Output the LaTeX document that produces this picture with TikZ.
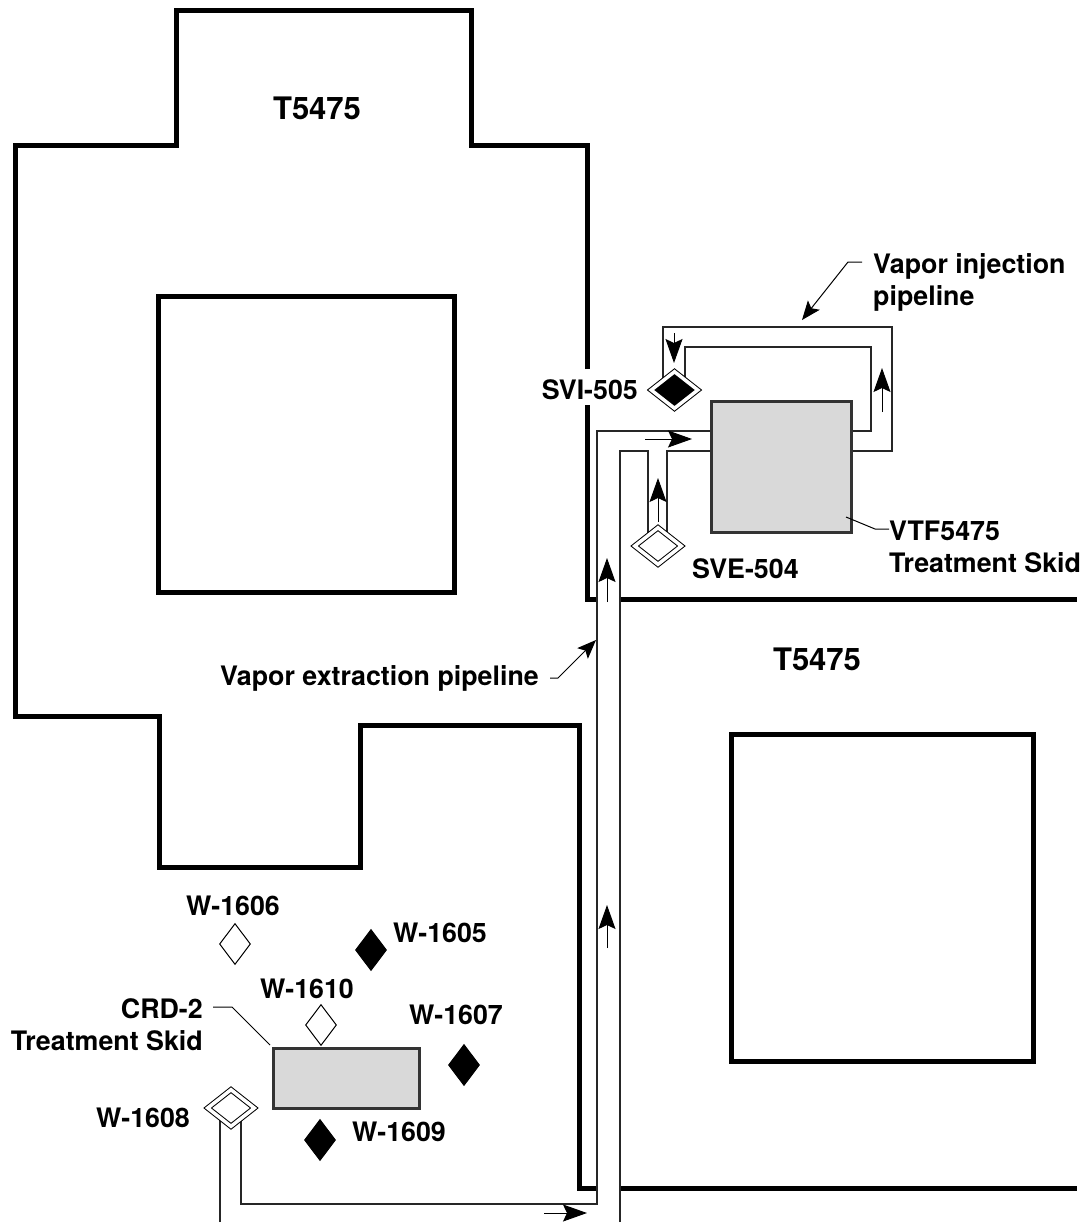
\documentclass[tikz,border=0pt]{standalone}
\usepackage{fontspec}
\setmainfont{TeX Gyre Heros}
\usetikzlibrary{shapes.geometric,arrows.meta,positioning,calc}

\begin{document}
\begin{tikzpicture}[x=1pt, y=-1pt,
    wall/.style={draw=black, line width=5pt},
    plot/.style={draw=black, line width=5pt},
    pipe/.style={draw=black!85, line width=1.2pt},
    skid/.style={rectangle, draw=black!80, fill=black!15, line width=3pt, inner sep=0pt},
    well/.style={diamond, draw=black, fill=white, line width=1pt, inner sep=0pt, minimum width=31pt, minimum height=41pt},
    wellon/.style={well, fill=black},
    port/.style={diamond, draw=black, fill=white, line width=1pt, double=white, double distance=3.5pt, inner sep=0pt, minimum width=47pt, minimum height=37pt},
    porton/.style={port, fill=black},
    label/.style={font=\fontsize{26.8}{32}\selectfont\bfseries, inner sep=0pt, align=left},
    title/.style={font=\fontsize{31}{36}\selectfont\bfseries, inner sep=0pt},
    flow/.style={draw=black, line width=1pt, -{Stealth[length=24pt, width=17pt, inset=4pt]}},
    pointer/.style={draw=black, line width=1pt, -{Stealth[length=19pt, width=15pt, inset=4pt]}},
    leader/.style={draw=black, line width=1pt}]

    \useasboundingbox (0,0) rectangle (1090,1224);

    \draw [wall] (587,369) -- (587,145) -- (471,145) -- (471,10) -- (176,10) -- (176,145) -- (15,145) -- (15,716) -- (159,716) -- (159,867) -- (360,867) -- (360,725) -- (579,725) -- (579,1188) -- (597,1188);
    \draw [wall] (587,405) -- (587,599) -- (597,599);
    \draw [wall] (620,599) -- (1077,599);
    \draw [wall] (620,1188) -- (1077,1188);
    \draw [plot] (158,296) rectangle (454,592);
    \draw [plot] (731,734) rectangle (1033,1061);

    \node [skid, minimum width=140pt, minimum height=131pt] (vtf) at (781,466.5) {};
    \node [skid, minimum width=146pt, minimum height=60pt] (crd) at (346,1078) {};

    \coordinate (ext corner) at (597,1204);
    \coordinate (ret corner) at (620,451);
    \coordinate (ext bottom) at (220,1222);
    \coordinate (ret bottom) at (620,1222);
    \coordinate (inj outer) at (892,327);
    \coordinate (inj inner) at (871,347);

    \path [pipe] (241,1108) |- (ext corner) |- (vtf.west |- 0,431);
    \path [pipe] (ext bottom) -- (220,1108);
    \path [pipe] (ret bottom) -- (ret corner) -- (648,451) -- (648,546);
    \path [pipe] (667,546) -- (667,451) -- (vtf.west |- 0,451);
    \path [pipe] (vtf.east |- 0,431) -| (inj inner) -| (685,390);
    \path [pipe] (vtf.east |- 0,451) -| (inj outer) -| (663,390);

    \node [port] (w1608) at (231,1108) {};
    \node [port] (sve504) at (658,546) {};
    \node [porton] (svi505) at (674.5,390) {};
    \node [well] (w1606) at (235,944) {};
    \node [wellon] (w1605) at (371,950) {};
    \node [well] (w1610) at (321,1025) {};
    \node [wellon] (w1607) at (464,1065) {};
    \node [wellon] (w1609) at (320,1140) {};

    \node [title] (t5475a) at (317,108) {T5475};
    \node [title] (t5475b) at (817,659) {T5475};
    \node [label, anchor=north west] (injlabel) at (873,253) {Vapor injection\\pipeline};
    \node [label, anchor=east] (svilabel) at (638,390) {SVI-505};
    \node [label, anchor=west] (svelabel) at (692,569) {SVE-504};
    \node [label, anchor=north west] (vtflabel) at (889,521) {VTF5475\\Treatment Skid};
    \node [label, anchor=east] (extlabel) at (539,678) {Vapor extraction pipeline};
    \node [label] (l1606) at (233,906) {W-1606};
    \node [label] (l1605) at (440,933) {W-1605};
    \node [label] (l1610) at (307,989) {W-1610};
    \node [label] (l1607) at (456,1015) {W-1607};
    \node [label] (l1608) at (143,1118) {W-1608};
    \node [label] (l1609) at (399,1132) {W-1609};
    \node [label, anchor=north east, align=right] (crdlabel) at (203,998) {CRD-2\\Treatment Skid};

    \coordinate (ext flow a) at (607,602);
    \coordinate (ext flow b) at (607,558);
    \coordinate (ext flow c) at (607,948);
    \coordinate (ext flow d) at (607,905);
    \coordinate (in flow a) at (645,439);
    \coordinate (in flow b) at (692,439);
    \coordinate (sve flow a) at (658,522);
    \coordinate (sve flow b) at (658,478);
    \coordinate (svi flow a) at (674,333);
    \coordinate (svi flow b) at (674,363);
    \coordinate (out flow a) at (882,412);
    \coordinate (out flow b) at (882,368);
    \coordinate (low flow a) at (544,1213);
    \coordinate (low flow b) at (587,1213);

    \path [flow] (ext flow a) -- (ext flow b);
    \path [flow] (ext flow c) -- (ext flow d);
    \path [flow] (in flow a) -- (in flow b);
    \path [flow] (sve flow a) -- (sve flow b);
    \path [flow] (svi flow a) -- (svi flow b);
    \path [flow] (out flow a) -- (out flow b);
    \path [flow] (low flow a) -- (low flow b);

    \coordinate (inj tip) at (802,320);
    \coordinate (ext tip) at (596,640);
    \coordinate (vtf tip) at (846,517);
    \coordinate (crd tip) at (270,1045);

    \path [pointer] (862,262) -- (848,262) -- (inj tip);
    \path [pointer] (550,678) -- (558,678) -- (ext tip);
    \path [leader] (vtflabel.west |- 0,529) -- (875,529) -- (vtf tip);
    \path [leader] (213,1007) -- (232,1007) -- (crd tip);
\end{tikzpicture}
\end{document}
